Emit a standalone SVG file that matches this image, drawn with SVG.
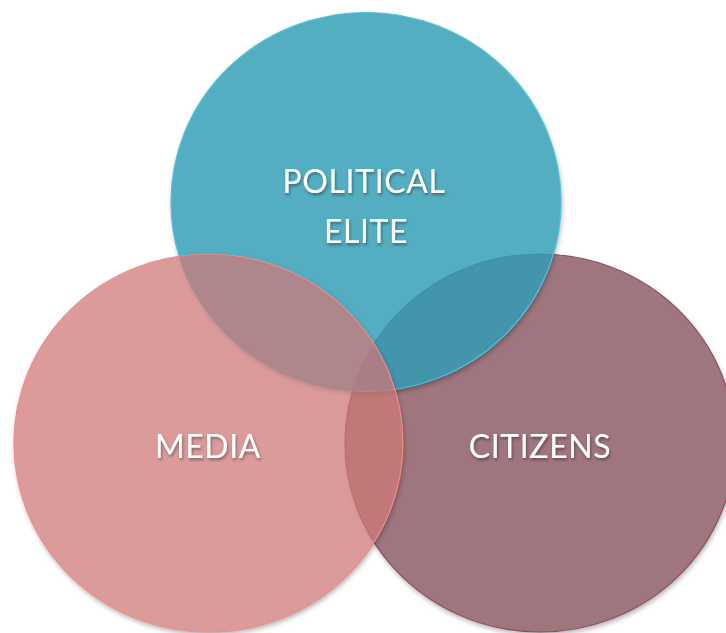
<svg xmlns="http://www.w3.org/2000/svg" width="726" height="633" viewBox="0 0 726 633">
  <defs>
    <filter id="blur" x="-10%" y="-10%" width="120%" height="125%">
      <feGaussianBlur stdDeviation="2.5"/>
    </filter>
    <filter id="tshadow" x="-10%" y="-20%" width="120%" height="150%">
      <feGaussianBlur in="SourceAlpha" stdDeviation="1.5"/>
      <feOffset dx="1" dy="2" result="b"/>
      <feComponentTransfer><feFuncA type="linear" slope="0.4"/></feComponentTransfer>
      <feMerge><feMergeNode/><feMergeNode in="SourceGraphic"/></feMerge>
    </filter>
    <mask id="mC" maskUnits="userSpaceOnUse" x="0" y="0" width="726" height="633">
      <rect width="726" height="633" fill="#fff"/>
      <ellipse cx="540" cy="443" rx="195" ry="189" fill="#000"/>
    </mask>
    <mask id="mP" maskUnits="userSpaceOnUse" x="0" y="0" width="726" height="633">
      <rect width="726" height="633" fill="#fff"/>
      <ellipse cx="366" cy="202" rx="195" ry="189.5" fill="#000"/>
    </mask>
    <mask id="mM" maskUnits="userSpaceOnUse" x="0" y="0" width="726" height="633">
      <rect width="726" height="633" fill="#fff"/>
      <ellipse cx="208.5" cy="443" rx="194.5" ry="189" fill="#000"/>
    </mask>
  </defs>
  <style>
    .lbl { font-family: Lato, "Open Sans", "Liberation Sans", sans-serif; font-size: 32px; letter-spacing: 0.6px; fill: #ffffff; text-anchor: middle; filter: url(#tshadow); }
    .sh { fill: #000; fill-opacity: 0.3; filter: url(#blur); }
  </style>
  <rect width="726" height="633" fill="#ffffff"/>
  <g id="citizens">
    <g mask="url(#mC)"><ellipse class="sh" cx="541" cy="446" rx="195" ry="189"/></g>
    <ellipse cx="540" cy="443" rx="195" ry="189" fill="#A0767E" stroke="#8E4E5E" stroke-width="1.2"/>
  </g>
  <g id="political-elite">
    <g mask="url(#mP)"><ellipse class="sh" cx="367" cy="205" rx="195" ry="189.5"/></g>
    <ellipse cx="366" cy="202" rx="195" ry="189.5" fill="#2D9CB4" fill-opacity="0.82" stroke="#4CC3DA" stroke-width="1.2"/>
  </g>
  <g id="media">
    <g mask="url(#mM)"><ellipse class="sh" cx="209.5" cy="446" rx="194.5" ry="189"/></g>
    <ellipse cx="208.5" cy="443" rx="194.5" ry="189" fill="#CE7778" fill-opacity="0.737" stroke="#F28A8A" stroke-width="1.2"/>
  </g>
  <g id="labels">
    <text class="lbl" x="364" y="193">POLITICAL</text>
    <text class="lbl" x="366" y="243">ELITE</text>
    <text class="lbl" x="208" y="458">MEDIA</text>
    <text class="lbl" x="540" y="458">CITIZENS</text>
  </g>
  <g id="connectors"/>
</svg>
